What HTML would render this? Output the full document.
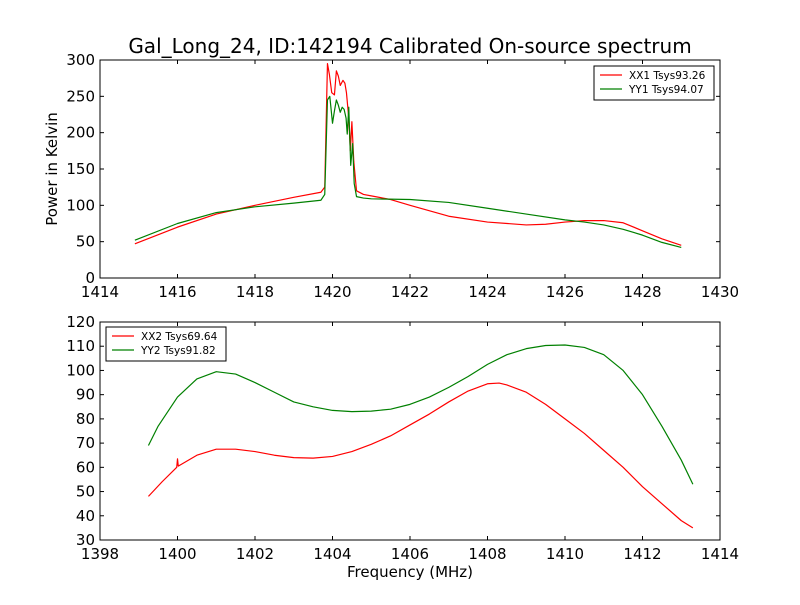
<!DOCTYPE html>
<html><head><meta charset="utf-8"><style>
body{margin:0;background:#fff}
svg text{font-family:"DejaVu Sans","Liberation Sans",sans-serif;fill:#000}
</style></head><body>
<svg id="chart" width="800" height="600" xmlns="http://www.w3.org/2000/svg">
<rect width="800" height="600" fill="#fff"/>
<text x="410" y="53" font-size="20" text-anchor="middle">Gal_Long_24, ID:142194 Calibrated On-source spectrum</text>
<text x="0" y="0" font-size="15" text-anchor="middle" transform="translate(57,169) rotate(-90)">Power in Kelvin</text>
<text x="410" y="577" font-size="15" text-anchor="middle">Frequency (MHz)</text>
</svg>
<script>
const topFreqXX = [1414.9,1416,1417,1418,1419,1419.7,1419.8,1419.87,1419.92,1419.98,1420.05,1420.1,1420.15,1420.2,1420.27,1420.32,1420.36,1420.42,1420.46,1420.5,1420.55,1420.62,1420.8,1421,1421.5,1422,1423,1424,1425,1425.5,1426,1426.5,1427,1427.5,1428,1428.5,1429];
const topValsXX = [47,70,88,100,111,118,125,295,280,255,252,285,278,265,272,268,255,220,175,215,160,120,115,113,108,100,85,77,73,74,77,79,79,76,65,54,45];
const topFreqYY = [1414.9,1416,1417,1418,1419,1419.7,1419.8,1419.87,1419.93,1420,1420.05,1420.1,1420.15,1420.2,1420.25,1420.3,1420.35,1420.38,1420.42,1420.47,1420.52,1420.56,1420.62,1420.8,1421,1422,1423,1424,1425,1426,1426.5,1427,1427.5,1428,1428.5,1429];
const topValsYY = [52,75,90,98,103,107,115,245,250,213,230,245,238,228,235,232,220,198,235,155,185,130,112,110,109,108,104,96,88,80,77,73,67,59,49,42];
const botFreqXX = [1399.25,1399.6,1399.98,1400,1400.02,1400.5,1401,1401.5,1402,1402.5,1403,1403.5,1404,1404.5,1405,1405.5,1406,1406.5,1407,1407.5,1408,1408.3,1408.5,1409,1409.5,1410,1410.5,1411,1411.5,1412,1412.5,1413,1413.3];
const botValsXX = [48,54,60,63.5,60.5,65,67.5,67.5,66.5,65,64,63.8,64.5,66.5,69.5,73,77.5,82,87,91.5,94.5,94.8,94,91,86,80,74,67,60,52,45,38,35];
const botFreqYY = [1399.25,1399.5,1400,1400.5,1401,1401.5,1402,1402.5,1403,1403.5,1404,1404.5,1405,1405.5,1406,1406.5,1407,1407.5,1408,1408.5,1409,1409.5,1410,1410.5,1411,1411.5,1412,1412.5,1413,1413.3];
const botValsYY = [69,77,89,96.5,99.5,98.5,95,91,87,85,83.5,83,83.2,84,86,89,93,97.5,102.5,106.5,109,110.3,110.5,109.5,106.5,100,90,77,63,53];
const topXTicks = [1414,1416,1418,1420,1422,1424,1426,1428,1430];
const topYTicks = [0,50,100,150,200,250,300];
const botXTicks = [1398,1400,1402,1404,1406,1408,1410,1412,1414];
const botYTicks = [30,40,50,60,70,80,90,100,110,120];
const legendTop = ["XX1 Tsys93.26","YY1 Tsys94.07"];
const legendBot = ["XX2 Tsys69.64","YY2 Tsys91.82"];

const svg = document.getElementById('chart');
const NS = 'http://www.w3.org/2000/svg';
function mk(tag, attrs, parent){const e=document.createElementNS(NS,tag);for(const k in attrs)e.setAttribute(k,attrs[k]);(parent||svg).appendChild(e);return e;}

function panel(name, x0,x1,y0,y1, xmin,xmax,ymin,ymax, xt,yt, series, legend, lx,ly){
  const sx=v=>x0+(v-xmin)/(xmax-xmin)*(x1-x0);
  const sy=v=>y1-(v-ymin)/(ymax-ymin)*(y1-y0);
  const g=mk('g',{});
  
  
  series.forEach(s=>{
    const p=mk('polyline',{points:s.f.map((f,i)=>sx(f).toFixed(2)+','+sy(s.v[i]).toFixed(2)).join(' '),fill:'none',stroke:s.c,'stroke-width':1.2,'stroke-linejoin':'round'},g);
    
    
  });
  const fr=mk('rect',{x:x0,y:y0,width:x1-x0,height:y1-y0,fill:'none',stroke:'#000','stroke-width':1},g);
  
  
  xt.forEach(t=>{const x=sx(t);
    mk('line',{x1:x,x2:x,y1:y1,y2:y1-4,stroke:'#000'},g);mk('line',{x1:x,x2:x,y1:y0,y2:y0+4,stroke:'#000'},g);
    const tx=mk('text',{x:x,y:y1+19,'font-size':15,'text-anchor':'middle'},g);tx.textContent=t;
    
    });
  yt.forEach(t=>{const y=sy(t);
    mk('line',{x1:x0,x2:x0+4,y1:y,y2:y,stroke:'#000'},g);mk('line',{x1:x1,x2:x1-4,y1:y,y2:y,stroke:'#000'},g);
    const tx=mk('text',{x:x0-5,y:y+5,'font-size':15,'text-anchor':'end'},g);tx.textContent=t;
    
    });
  const lg=mk('g',{},g);
  
  
  mk('rect',{x:lx,y:ly,width:120,height:34,fill:'#fff',stroke:'#000'},lg);
  legend.forEach((l,i)=>{const yy=ly+9+i*14;
    mk('line',{x1:lx+6,x2:lx+28,y1:yy,y2:yy,stroke:series[i].c,'stroke-width':1.2},lg);
    const tx=mk('text',{x:lx+35,y:yy+4,'font-size':10.5},lg);tx.textContent=l;
    
    });
}
panel('top',100,720,60,278,1414,1430,0,300,topXTicks,topYTicks,
  [{f:topFreqXX,v:topValsXX,c:'#ff0000',n:'xx1-line'},{f:topFreqYY,v:topValsYY,c:'#008000',n:'yy1-line'}],legendTop,594,66);
panel('bottom',100,720,322,540,1398,1414,30,120,botXTicks,botYTicks,
  [{f:botFreqXX,v:botValsXX,c:'#ff0000',n:'xx2-line'},{f:botFreqYY,v:botValsYY,c:'#008000',n:'yy2-line'}],legendBot,106,327);
</script>
</body></html>
